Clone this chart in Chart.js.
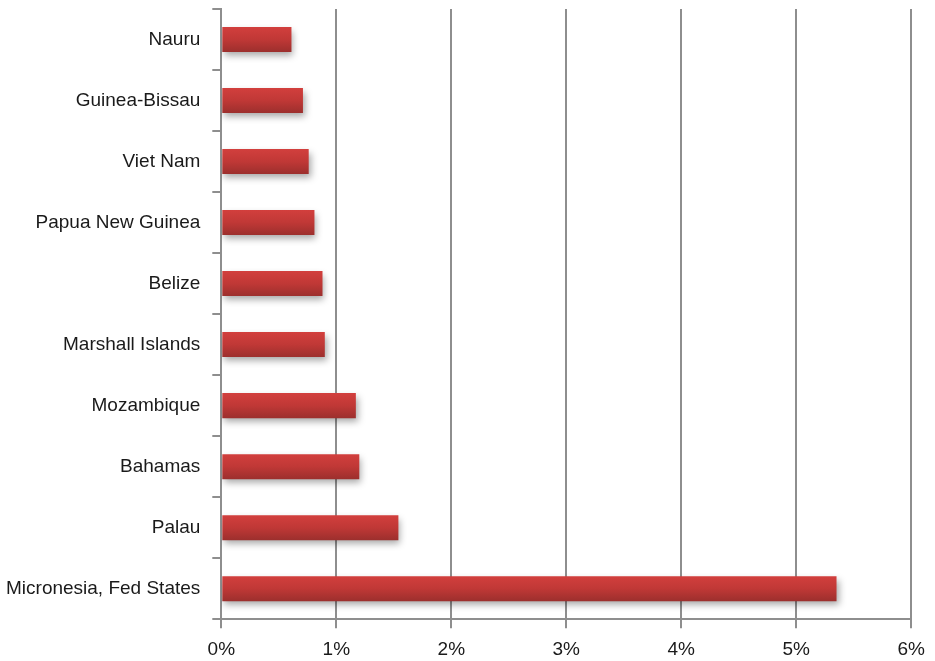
<!DOCTYPE html>
<html>
<head>
<meta charset="utf-8">
<script src="https://cdn.jsdelivr.net/npm/chart.js@4"></script>
<style>
    html, body { margin: 0; padding: 0; background: #fff; }
    #wrap { width: 935px; height: 661px; }
</style>
</head>
<body>
<div id="wrap"><canvas id="grafico"></canvas></div>
<script>
const paises = ['Nauru', 'Guinea-Bissau', 'Viet Nam', 'Papua New Guinea', 'Belize',
    'Marshall Islands', 'Mozambique', 'Bahamas', 'Palau', 'Micronesia, Fed States'];
const valores = [0.61, 0.71, 0.76, 0.81, 0.88, 0.90, 1.17, 1.20, 1.54, 5.35];
const ticksX = [0, 1, 2, 3, 4, 5, 6];

const cinza = '#8e8e8e';
const fonte = { family: 'Liberation Sans, Arial, sans-serif', size: 19 };

function gradienteBarra(context) {
    const chart = context.chart;
    const y = chart.scales.y;
    const centro = y ? y.getPixelForValue(context.dataIndex) : NaN;
    if (!isFinite(centro)) return '#c03836';
    const meia = 12.5;
    const g = chart.ctx.createLinearGradient(0, centro - meia, 0, centro + meia);
    g.addColorStop(0, '#d23f3d');
    g.addColorStop(0.5, '#c03836');
    g.addColorStop(1, '#9c2f2d');
    return g;
}

const sombraPlugin = {
    id: 'sombra',
    beforeDatasetsDraw(chart) {
        const ctx = chart.ctx;
        ctx.save();
        ctx.shadowColor = 'rgba(0,0,0,0.35)';
        ctx.shadowBlur = 7;
        ctx.shadowOffsetX = 2;
        ctx.shadowOffsetY = 4;
    },
    afterDatasetsDraw(chart) {
        chart.ctx.restore();
    }
};

new Chart(document.getElementById('grafico'), {
    type: 'bar',
    data: {
        labels: paises,
        datasets: [{
            data: valores,
            backgroundColor: gradienteBarra,
            borderWidth: 0,
            categoryPercentage: 1,
            barPercentage: 0.41
        }]
    },
    plugins: [sombraPlugin],
    options: {
        indexAxis: 'y',
        responsive: true,
        maintainAspectRatio: false,
        animation: false,
        layout: { padding: { top: 9, right: 21, left: -6, bottom: -10 } },
        plugins: {
            legend: { display: false },
            tooltip: { enabled: false }
        },
        scales: {
            x: {
                min: 0,
                max: 6,
                afterBuildTicks: (axis) => { axis.ticks = ticksX.map(v => ({ value: v })); },
                ticks: {
                    color: '#1a1a1a',
                    font: fonte,
                    padding: 10,
                    callback: (v) => v + '%'
                },
                grid: { color: cinza, lineWidth: 2, tickLength: 9, drawTicks: true },
                border: { color: cinza, width: 2 }
            },
            y: {
                offset: true,
                afterFit: (s) => { s.paddingTop = 0; s.paddingBottom = 0; },
                ticks: {
                    color: '#1a1a1a',
                    font: fonte,
                    padding: 12
                },
                grid: { offset: true, drawOnChartArea: false, color: cinza, lineWidth: 2, tickLength: 9 },
                border: { color: cinza, width: 2 }
            }
        }
    }
});
</script>
</body>
</html>
